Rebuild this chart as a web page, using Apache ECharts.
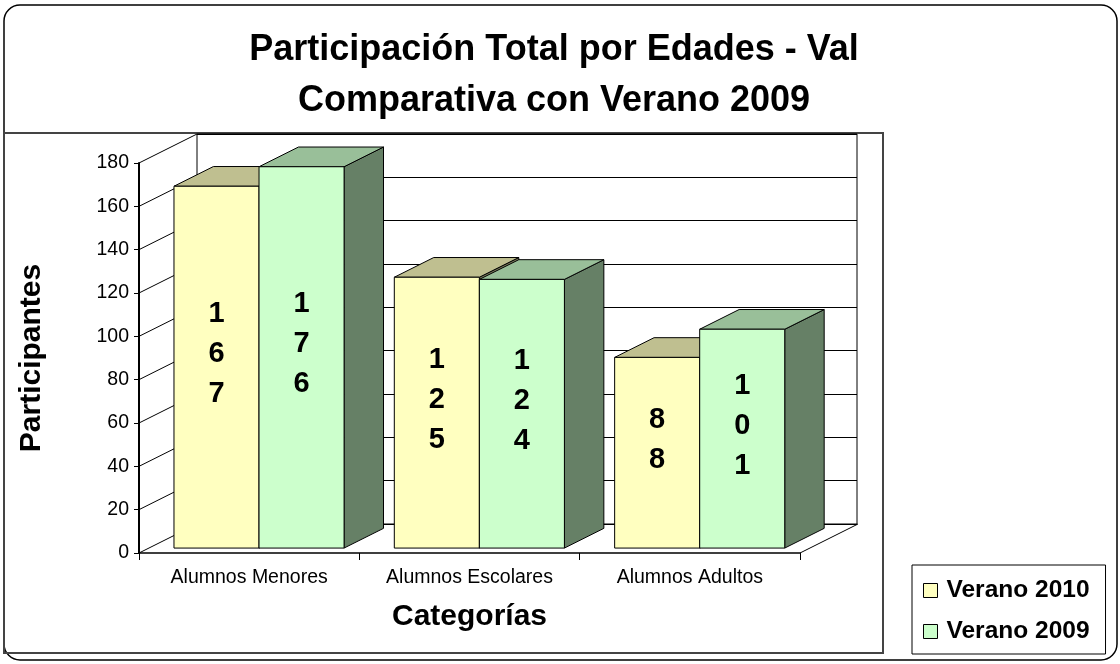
<!DOCTYPE html>
<html><head><meta charset="utf-8">
<script src="https://cdn.jsdelivr.net/npm/echarts@6/dist/echarts.min.js"></script>
<style>html,body{margin:0;padding:0;background:#fff}#c{width:1120px;height:664px}</style>
</head><body><div id="c"></div>
<script>
const categories = ['Alumnos Menores', 'Alumnos Escolares', 'Alumnos Adultos'];
const verano2010 = [167, 125, 88];
const verano2009 = [176, 124, 101];
const yTicks = [0, 20, 40, 60, 80, 100, 120, 140, 160, 180];
const seriesNames = ['Verano 2010', 'Verano 2009'];

const FONT = '"Liberation Sans", Arial, sans-serif';
const DX = 58, DY = -29;      // depth of the 3D floor / walls
const BF = 0.17, BB = 0.85;   // bar front / back depth fractions
const BAR_W = 0.386;          // bar width as fraction of band

const palettes = [
  { front: '#FFFFC0', top: '#BFBF90', side: '#808060' },
  { front: '#CCFFCC', top: '#99BF99', side: '#668066' }
];

function barRender(sIdx) {
  const pal = palettes[sIdx];
  return function (params, api) {
    const cat = api.value(0), val = api.value(1);
    const c = api.coord([cat, val]);
    const b = api.coord([cat, 0]);
    const bw = api.size([1, 0])[0];
    const w = bw * BAR_W;
    const x0 = c[0] + (sIdx - 1) * w + DX * BF;
    const yT = c[1] + DY * BF;
    const yB = b[1] + DY * BF;
    const ddx = DX * (BB - BF), ddy = DY * (BB - BF);
    const stroke = { stroke: '#000', lineWidth: 1 };
    const label = String(val).split('').join('\n');
    return {
      type: 'group',
      children: [
        { type: 'polygon', shape: { points: [[x0 + w, yT], [x0 + w + ddx, yT + ddy], [x0 + w + ddx, yB + ddy], [x0 + w, yB]] },
          style: Object.assign({ fill: pal.side }, stroke) },
        { type: 'polygon', shape: { points: [[x0, yT], [x0 + w, yT], [x0 + w + ddx, yT + ddy], [x0 + ddx, yT + ddy]] },
          style: Object.assign({ fill: pal.top }, stroke) },
        { type: 'rect', shape: { x: x0, y: yT, width: w, height: yB - yT },
          style: Object.assign({ fill: pal.front }, stroke) },
        { type: 'text', x: x0 + w / 2, y: (yT + yB) / 2 - 13,
          style: { text: label, fontFamily: FONT, fontSize: 29, fontWeight: 'bold', lineHeight: 40,
                   fill: '#000', align: 'center', verticalAlign: 'middle' } }
      ]
    };
  };
}

function wallRender(params, api) {
  const v = api.value(1);
  const y = api.coord([0, v])[1];
  const cs = params.coordSys;
  const x = cs.x;
  const children = [{ type: 'line', shape: { x1: x, y1: y, x2: x + DX, y2: y + DY }, style: { stroke: '#000', lineWidth: 1 } }];
  if (v === 0) {
    const xr = cs.x + cs.width;
    children.push({ type: 'line', shape: { x1: xr, y1: y, x2: xr + DX, y2: y + DY }, style: { stroke: '#000', lineWidth: 1 } });
  }
  return { type: 'group', children: children };
}

const chart = echarts.init(document.getElementById('c'), null, { renderer: 'canvas' });
chart.setOption({
  backgroundColor: '#fff',
  animation: false,
  textStyle: { fontFamily: FONT },
  title: {
    text: 'Participación Total por Edades - Val\nComparativa con Verano 2009',
    left: 549, top: 20, textAlign: 'center',
    textStyle: { fontFamily: FONT, fontSize: 36, fontWeight: 'bold', color: '#000', lineHeight: 51 }
  },
  legend: {
    orient: 'vertical', left: 912, top: 565,
    data: seriesNames,
    backgroundColor: '#fff', borderColor: '#000', borderWidth: 1,
    padding: [13, 16, 10, 11], itemGap: 16,
    itemWidth: 14, itemHeight: 14, icon: 'rect',
    itemStyle: { borderColor: '#000', borderWidth: 1 },
    textStyle: { fontFamily: FONT, fontSize: 24.5, fontWeight: 'bold', color: '#000', padding: [0, 0, 0, 4] }
  },
  graphic: [
    { type: 'rect', z: -10, shape: { x: 4, y: 5, width: 1113, height: 655, r: 16 }, style: { fill: 'none', stroke: '#000', lineWidth: 1.5 } },
    { type: 'rect', z: -9, shape: { x: 4, y: 133, width: 879, height: 520 }, style: { fill: 'none', stroke: '#444', lineWidth: 2 } }
  ],
  grid: [
    { left: 139, right: 320, top: 163, bottom: 111 },
    { left: 197, right: 263, top: 134, bottom: 140, show: true, borderColor: '#000', borderWidth: 1, backgroundColor: 'transparent' }
  ],
  xAxis: [
    { type: 'category', gridIndex: 0, data: categories,
      axisLine: { lineStyle: { color: '#000', width: 1.5 } },
      axisTick: { show: true, length: 7, lineStyle: { color: '#000' } },
      axisLabel: { color: '#000', fontSize: 19.5, margin: 15, fontFamily: FONT },
      name: 'Categorías', nameLocation: 'middle', nameGap: 49,
      nameTextStyle: { fontFamily: FONT, fontSize: 30, fontWeight: 'bold', color: '#000' } },
    { type: 'value', gridIndex: 1, min: 0, max: 1, show: false }
  ],
  yAxis: [
    { type: 'value', gridIndex: 0, min: 0, max: 180, interval: 20,
      axisLine: { show: true, lineStyle: { color: '#000', width: 2 } },
      axisTick: { show: true, length: 5, lineStyle: { color: '#000' } },
      axisLabel: { color: '#000', fontSize: 19.5, margin: 10, fontFamily: FONT },
      splitLine: { show: false },
      name: 'Participantes', nameLocation: 'middle', nameGap: 92, nameRotate: 90,
      nameTextStyle: { fontFamily: FONT, fontSize: 30, fontWeight: 'bold', color: '#000' } },
    { type: 'value', gridIndex: 1, min: 0, max: 180, interval: 20,
      axisLine: { show: false }, axisTick: { show: false }, axisLabel: { show: false },
      splitLine: { show: true, lineStyle: { color: '#000', width: 1 } } }
  ],
  series: [
    { type: 'custom', name: 'walls', xAxisIndex: 0, yAxisIndex: 0, clip: false, silent: true, z: 1,
      renderItem: wallRender, data: yTicks.map(v => [0, v]), encode: { x: 0, y: 1 } },
    { type: 'custom', name: seriesNames[0], xAxisIndex: 0, yAxisIndex: 0, clip: false, z: 3,
      itemStyle: { color: palettes[0].front },
      renderItem: barRender(0), data: verano2010.map((v, i) => [i, v]), encode: { x: 0, y: 1 } },
    { type: 'custom', name: seriesNames[1], xAxisIndex: 0, yAxisIndex: 0, clip: false, z: 4,
      itemStyle: { color: palettes[1].front },
      renderItem: barRender(1), data: verano2009.map((v, i) => [i, v]), encode: { x: 0, y: 1 } }
  ]
});
</script>
</body></html>
